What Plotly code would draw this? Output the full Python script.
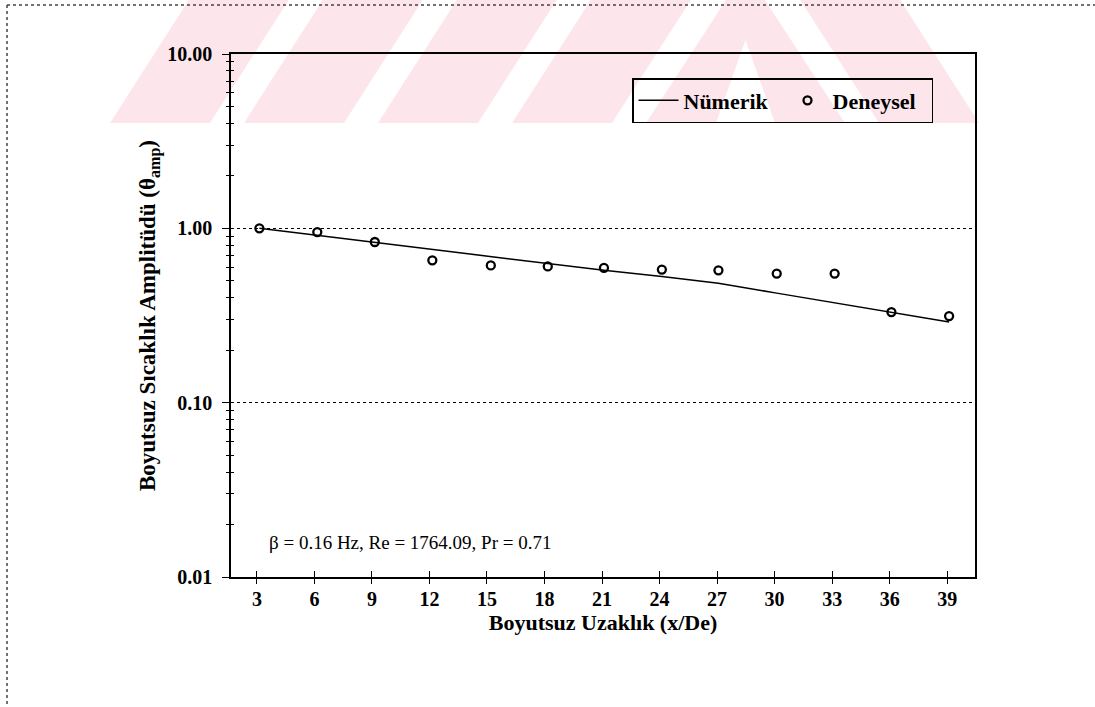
import plotly.graph_objects as go

# ---- data ----
x_num = [3.13, 6.15, 9.15, 12.15, 15.2, 18.17, 21.1, 24.12, 27.07, 30.11, 33.13, 36.09, 39.1]
y_num = [1.000, 0.912, 0.831, 0.758, 0.691, 0.630, 0.574, 0.529, 0.484, 0.425, 0.374, 0.332, 0.290]
x_exp = [3.13, 6.15, 9.15, 12.15, 15.2, 18.17, 21.1, 24.12, 27.07, 30.11, 33.13, 36.09, 39.1]
y_exp = [1.00, 0.952, 0.835, 0.655, 0.613, 0.605, 0.593, 0.580, 0.574, 0.550, 0.550, 0.331, 0.314]
x_ticks = [3, 6, 9, 12, 15, 18, 21, 24, 27, 30, 33, 36, 39]
y_ticks = [0.01, 0.1, 1, 10]
y_ticktext = ["0.01", "0.10", "1.00", "10.00"]
y_minor = [k * 10.0 ** e for e in (-2, -1, 0) for k in range(2, 10)]

FONT = "Liberation Serif, Times New Roman, serif"
W, H = 1095, 707
L, R, T, B = 231, 975, 54, 577
PW, PH = R - L, B - T


def px(x):
    return (x - L) / PW


def py(y):
    return (B - y) / PH


fig = go.Figure()
fig.add_trace(go.Scatter(x=x_num, y=y_num, mode="lines", name="Nümerik",
                         line=dict(color="black", width=1.5)))
fig.add_trace(go.Scatter(x=x_exp, y=y_exp, mode="markers", name="Deneysel",
                         marker=dict(symbol="circle-open", size=8, color="black",
                                     line=dict(width=2.3, color="black"))))
# invisible trace carrying the overlaid axes (for crossing ticks)
fig.add_trace(go.Scatter(x=x_exp, y=y_exp, xaxis="x2", yaxis="y2", mode="markers",
                         marker=dict(opacity=0), showlegend=False, hoverinfo="skip"))

xr = [1.65, 40.45]
yr = [-2, 1]
fig.update_layout(
    width=W, height=H, autosize=False,
    margin=dict(l=L, r=W - R, t=T, b=H - B, pad=0),
    paper_bgcolor="white", plot_bgcolor="rgba(0,0,0,0)",
    font=dict(family=FONT, color="black"),
    xaxis=dict(range=xr, tickvals=x_ticks, ticks="outside", ticklen=5, tickwidth=1,
               tickcolor="black", showline=True, linecolor="black", linewidth=1.6,
               mirror=True, showgrid=False, zeroline=False, ticklabelstandoff=-2,
               tickfont=dict(family=FONT, size=20, color="black", weight="bold"),
               title=dict(text="<b>Boyutsuz Uzaklık (x/De)</b>", standoff=1,
                          font=dict(family=FONT, size=22, color="black"))),
    xaxis2=dict(range=xr, overlaying="x", side="bottom", anchor="y", tickvals=x_ticks,
                ticks="inside", ticklen=6, tickwidth=1, tickcolor="black",
                showticklabels=False, showgrid=False, zeroline=False, showline=False),
    yaxis=dict(type="log", range=yr, tickvals=y_ticks, ticktext=y_ticktext,
               ticks="outside", ticklen=7, tickwidth=1, tickcolor="black",
               ticklabelstandoff=6,
               minor=dict(tickvals=y_minor, ticks="outside", ticklen=3, tickwidth=1,
                          tickcolor="black", showgrid=False),
               showline=True, linecolor="black", linewidth=1.6, mirror=True,
               showgrid=True, gridcolor="black", griddash="dot", gridwidth=1,
               zeroline=False,
               tickfont=dict(family=FONT, size=20, color="black", weight="bold"),
               title=dict(text="<b>Boyutsuz Sıcaklık Amplitüdü (θ<sub>amp</sub>)</b>",
                          standoff=5,
                          font=dict(family=FONT, size=23, color="black"))),
    yaxis2=dict(type="log", range=yr, overlaying="y", side="left", anchor="x",
                tickvals=y_ticks, ticks="", showticklabels=False,
                minor=dict(tickvals=y_minor, ticks="inside", ticklen=3, tickwidth=1,
                           tickcolor="black", showgrid=False),
                showgrid=False, zeroline=False, showline=False),
    legend=dict(orientation="h", x=px(632), y=py(78), xanchor="left", yanchor="top",
                bordercolor="black", borderwidth=1.5, bgcolor="rgba(255,255,255,0)",
                itemwidth=40, entrywidth=94,
                font=dict(family=FONT, size=22, color="black", weight="bold")),
    showlegend=True,
)

fig.add_annotation(xref="paper", yref="paper", x=px(267), y=py(542),
                   xanchor="left", yanchor="middle", showarrow=False,
                   text="β = 0.16 Hz, Re = 1764.09, Pr = 0.71",
                   font=dict(family=FONT, size=19, color="black"))

# ---- watermark (pale pink stripes) ----
PINK = "#fde6eb"
wm_top, wm_bot = -2, 123


def poly(points):
    return "M " + " L ".join(f"{px(a):.5f},{py(b):.5f}" for a, b in points) + " Z"


shapes = []
for x0 in [110, 244, 378, 512]:
    shapes.append(poly([(x0, wm_bot), (x0 + 100, wm_bot), (x0 + 180, wm_top), (x0 + 80, wm_top)]))
# chevron
chev = poly([(646, wm_bot), (845, wm_bot), (745.5, -30)]) + " " + \
    poly([(716, wm_bot), (775, wm_bot), (745.5, 40)])
shapes.append(chev)
for x0 in [879]:
    shapes.append(poly([(x0, wm_bot), (x0 + 100, wm_bot), (x0 + 20, wm_top), (x0 - 80, wm_top)]))
for s in shapes:
    fig.add_shape(type="path", path=s, xref="paper", yref="paper", layer="below",
                  fillcolor=PINK, line=dict(width=0), fillrule="evenodd")

# ---- dotted page frame ----
fig.add_shape(type="line", xref="paper", yref="paper", x0=px(7), x1=px(1095), y0=py(5), y1=py(5),
              line=dict(color="#444", width=1.5, dash="dot"))
fig.add_shape(type="line", xref="paper", yref="paper", x0=px(7), x1=px(7), y0=py(5), y1=py(707),
              line=dict(color="#444", width=1.5, dash="dot"))

fig.write_html("out.html")
